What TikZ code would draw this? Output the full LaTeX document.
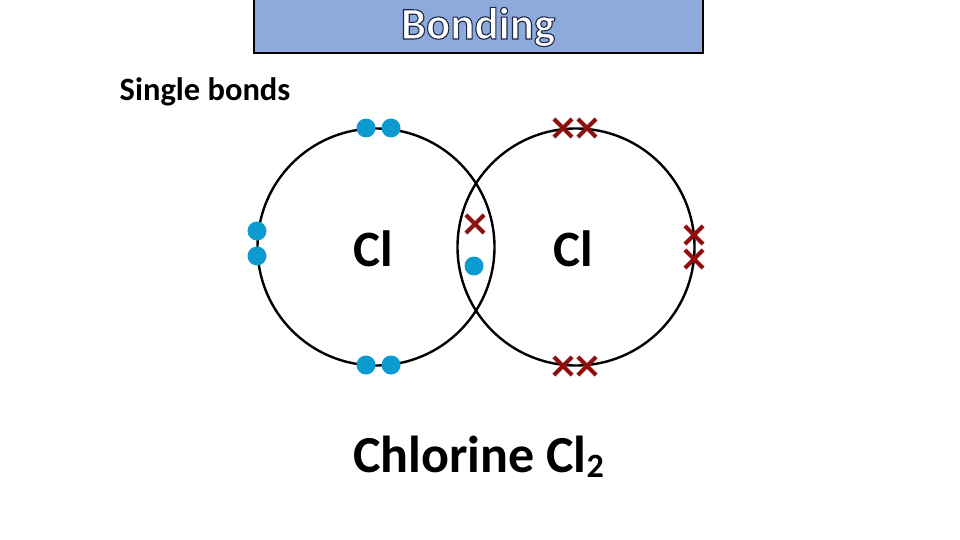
\documentclass[tikz,border=0pt]{standalone}
\usepackage{fontspec}
\setmainfont{Carlito}
\usetikzlibrary{shapes.misc}
\definecolor{titlefill}{HTML}{8EA9DB}
\definecolor{dotblue}{HTML}{0C9BD0}
\definecolor{crossred}{HTML}{8F0F0F}
\newcommand{\outlined}[1]{\special{pdf:code q 2 Tr 1.1 w 0.12 0.16 0.27 RG 1 1 1 rg}#1\special{pdf:code Q}}
\tikzset{
  x=1pt,y=-1pt,
  dot/.style={circle,fill=dotblue,inner sep=0pt,minimum size=19pt},
  crossmark/.style={cross out,draw=crossred,line width=4.2pt,inner sep=0pt,minimum size=14pt},
  atom/.style={circle,draw=black,line width=2.4pt,inner sep=0pt,minimum size=237pt},
  label/.style={inner sep=0pt,text=black}
}
\begin{document}
\begin{tikzpicture}
\useasboundingbox (0,0) rectangle (960,540);
\fill[white] (0,0) rectangle (960,540);
\node[draw=black,fill=titlefill,line width=1.5pt,minimum width=449pt,minimum height=54pt,inner sep=0pt] (title) at (478.5,26) {};
\node[inner sep=0pt,font=\fontsize{45}{45}\selectfont\bfseries] (titletext) at (478,27) {\outlined{Bonding}};
\node[label,font=\fontsize{32.5}{33}\selectfont\bfseries] (single) at (205,92) {Single bonds};
\node[atom] (left) at (376,247) {};
\node[atom] (right) at (576,247) {};
\node[label,font=\fontsize{51}{51}\selectfont\bfseries] (cl1) at (373,249) {Cl};
\node[label,font=\fontsize{51}{51}\selectfont\bfseries] (cl2) at (573,249) {Cl};
\node[label,font=\fontsize{52}{52}\selectfont\bfseries,anchor=base west] (name) at (353,472) {Chlorine Cl\raisebox{-5pt}{\fontsize{34}{34}\selectfont 2}};
\node[dot] (d1) at (366,128) {};
\node[dot] (d2) at (391,128) {};
\node[dot] (d3) at (257,231) {};
\node[dot] (d4) at (257,256) {};
\node[dot] (d5) at (366,365) {};
\node[dot] (d6) at (391,365) {};
\node[dot] (d7) at (474,266) {};
\node[crossmark] (x1) at (563,128) {};
\node[crossmark] (x2) at (587,128) {};
\node[crossmark] (x3) at (694,235) {};
\node[crossmark] (x4) at (694,259) {};
\node[crossmark] (x5) at (563,366) {};
\node[crossmark] (x6) at (587,366) {};
\node[crossmark] (x7) at (475,224) {};
\end{tikzpicture}
\end{document}
